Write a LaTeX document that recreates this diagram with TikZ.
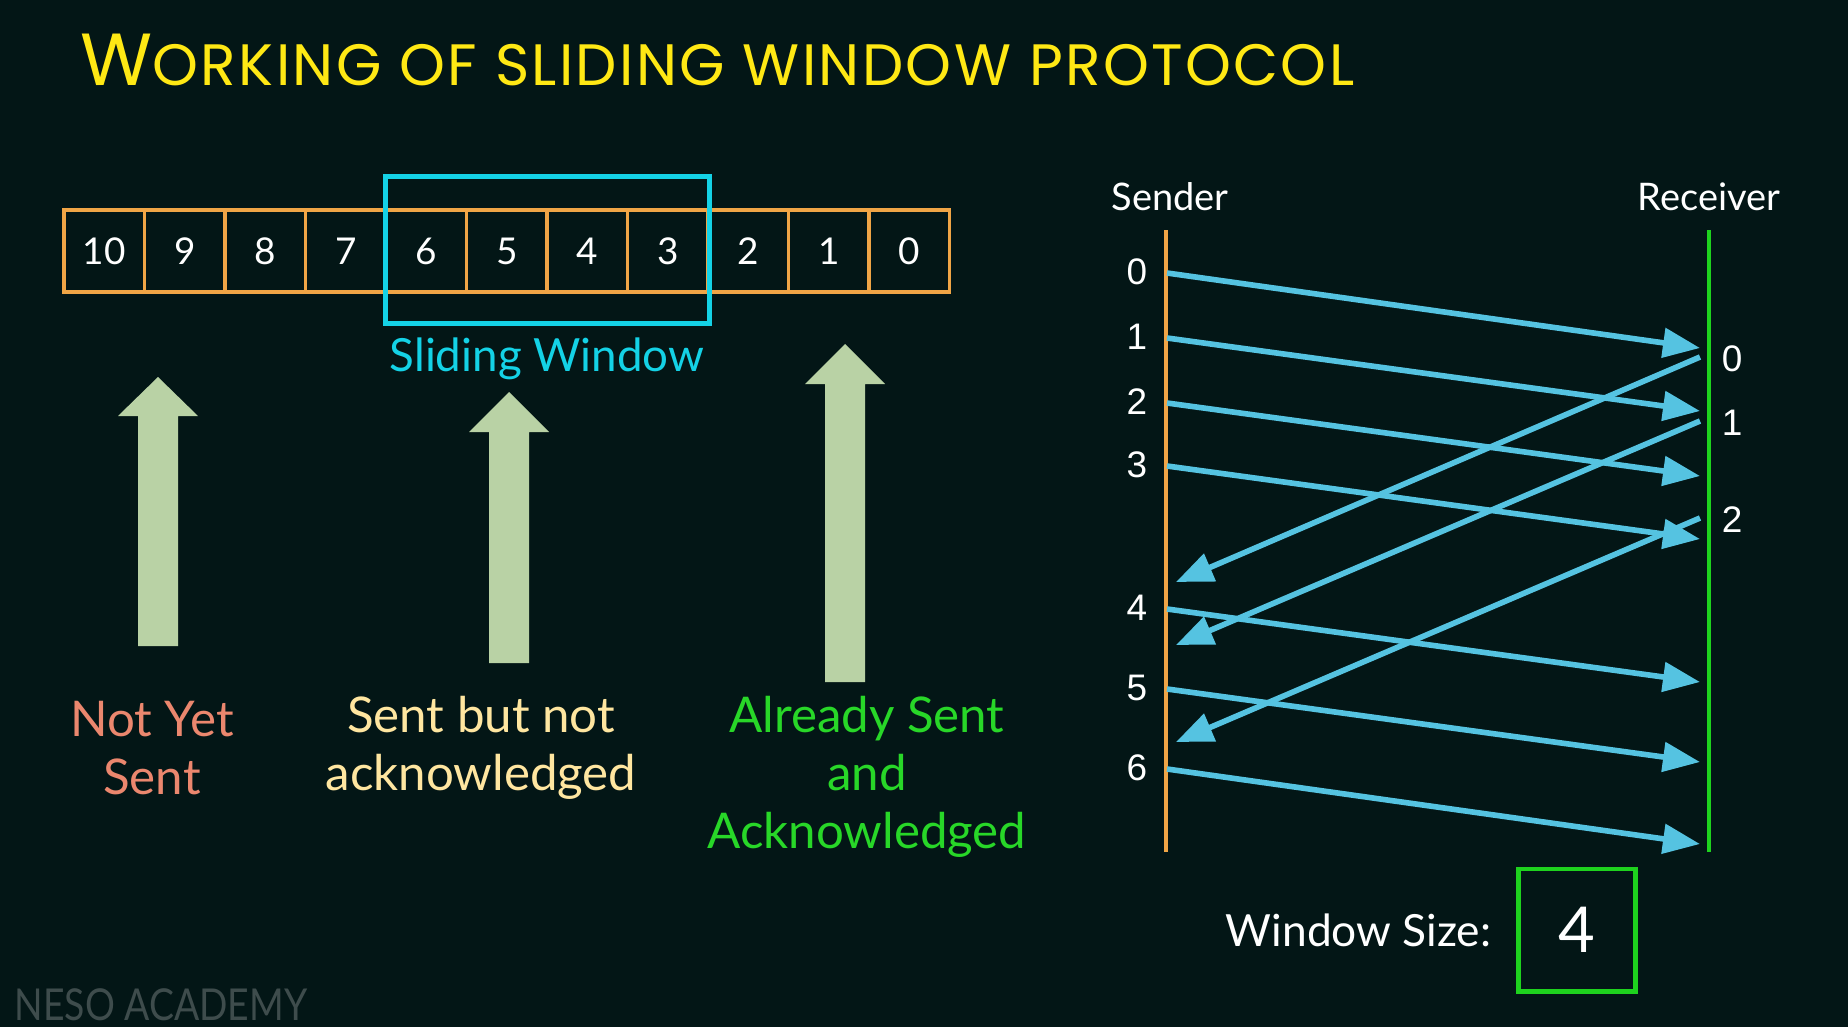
\documentclass[tikz,border=0pt]{standalone}
\usepackage{fontspec}
\setmainfont{Lato}
\newfontfamily\titlefont[LetterSpace=4]{Poppins}
\newfontfamily\numfont{Liberation Sans}
\usetikzlibrary{arrows.meta,positioning}
\definecolor{bgdark}{RGB}{3,22,22}
\definecolor{cellorange}{RGB}{240,165,70}
\definecolor{wincyan}{RGB}{20,210,230}
\definecolor{arrowgreen}{RGB}{185,210,165}
\definecolor{txtsalmon}{RGB}{235,135,110}
\definecolor{txtcream}{RGB}{255,230,160}
\definecolor{txtgreen}{RGB}{40,215,40}
\definecolor{seqblue}{RGB}{85,195,225}
\definecolor{linegreen}{RGB}{30,210,30}
\definecolor{titleyellow}{RGB}{255,232,20}
\definecolor{nesogrey}{RGB}{62,76,76}

\begin{document}
\begin{tikzpicture}[x=0.01cm, y=-0.01cm, >=Stealth,
  every node/.style={text=white},
  cell/.style={draw=cellorange,line width=1pt,minimum width=0.805cm,minimum height=0.82cm,inner sep=0pt,font=\fontsize{10.5}{12}\selectfont},
  winbox/.style={draw=wincyan,line width=1.4pt,minimum width=3.23cm,minimum height=1.46cm},
  blockarrow/.style={fill=arrowgreen},
  legend/.style={align=center,font=\fontsize{14}{16.4}\selectfont},
  seqline/.style={line width=1.2pt},
  msg/.style={draw=seqblue,line width=1.6pt,-{Triangle[length=3.7mm,width=2.9mm]}},
  seqnum/.style={font=\numfont\fontsize{10.5}{12}\selectfont,inner sep=0pt}]
\useasboundingbox (0,0) rectangle (1848,1027);
\fill[bgdark] (0,0) rectangle (1848,1027);

% title
\node[anchor=base west,inner sep=0pt,text=titleyellow] (title) at (80,85)
  {\titlefont{\fontsize{21}{21}\selectfont W}{\fontsize{16.6}{17}\selectfont ORKING OF SLIDING WINDOW PROTOCOL}};

% frame buffer
\foreach \v [count=\i from 0] in {10,9,...,0}
  \node[cell] (c\v) at (104.25+80.5*\i,251) {\v};
\node[winbox] (win) at (547.5,250) {};
\node[text=wincyan,font=\fontsize{13}{15}\selectfont] (winlabel) at (547,359) {Sliding Window};

% pointers
\foreach \x/\t/\b/\e in {158/377/416/646, 509/392/432/663, 845/344/384/682}
  \fill[blockarrow] (\x-20,\e) -- (\x-20,\b) -- (\x-40,\b) -- (\x,\t) -- (\x+40,\b) -- (\x+20,\b) -- (\x+20,\e) -- cycle;
\node[legend,text=txtsalmon] (notsent) at (152,748) {Not Yet\\Sent};
\node[legend,text=txtcream] (sentnoack) at (481,748) {Sent but not\\acknowledged};
\node[legend,text=txtgreen] (sentack) at (867,777) {Already Sent\\and\\Acknowledged};

% sender / receiver
\node[font=\fontsize{10.8}{12}\selectfont] (sender) at (1170,197) {Sender};
\node[font=\fontsize{10.8}{12}\selectfont] (receiver) at (1709,197) {Receiver};
\coordinate (stop) at (1166,230);
\coordinate (sbot) at (1166,852);
\coordinate (rtop) at (1709,230);
\coordinate (rbot) at (1709,852);
\draw[seqline,cellorange] (stop) -- (sbot);
\draw[seqline,linegreen] (rtop) -- (rbot);

\foreach \n/\y/\t in {0/272/348,1/337/411,2/402/476,3/465/539,4/608/682,5/688/762,6/768/844}{
  \node[seqnum] (n\n) at (1137,\y) {\n};
  \coordinate (s\n) at (1167,\y+1);
  \coordinate (t\n) at (1700,\t);
  \draw[msg] (s\n) -- (t\n);
}
\foreach \n/\y/\e in {0/357/582,1/421/645,2/518/742}{
  \node[seqnum] (a\n) at (1732,\y+2) {\n};
  \coordinate (ra\n) at (1700,\y);
  \coordinate (sa\n) at (1176,\e);
  \draw[msg] (ra\n) -- (sa\n);
}

% window size
\node[draw=linegreen,line width=1.4pt,minimum width=1.17cm,minimum height=1.22cm,inner sep=0pt,font=\fontsize{18}{20}\selectfont] (wsbox) at (1577,930) {4};
\node[left=0.24cm of wsbox,inner sep=0pt,font=\fontsize{12.6}{15}\selectfont] (wslabel) {Window Size:};

\node[anchor=west,inner sep=0pt,xscale=0.85,text=nesogrey,font=\fontsize{12.5}{14}\selectfont] (neso) at (14,1005) {NESO ACADEMY};
\end{tikzpicture}
\end{document}
